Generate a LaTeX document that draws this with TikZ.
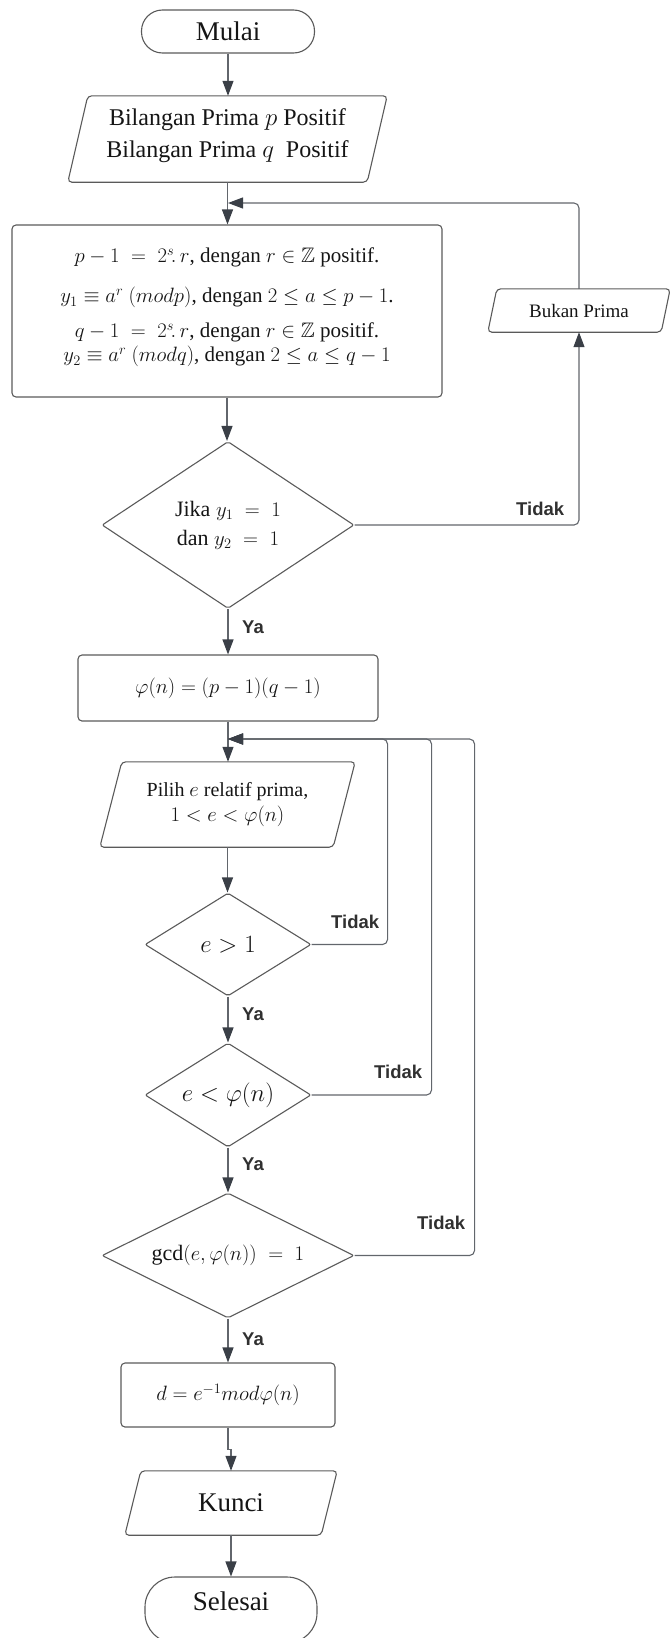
\documentclass[tikz,border=0pt]{standalone}
\usepackage{amssymb}
\usepackage{fontspec}
\setmainfont{Liberation Serif}
\newfontfamily\lblfont{Liberation Sans}
\usetikzlibrary{shapes.geometric,arrows.meta,calc}

\definecolor{shapegray}{HTML}{5A5A5A}
\definecolor{linegray}{HTML}{62666C}
\definecolor{tipdark}{HTML}{3A3F47}
\definecolor{inkblack}{HTML}{151515}
\definecolor{lbltext}{HTML}{303030}

% outline of an input/output parallelogram drawn over a named node
\newcommand\slantedoutline[2]{%
  \draw[outline, rounded corners=4pt]
    ($(#1.north west)+(#2,0)$) -- (#1.north east) --
    ($(#1.south east)-(#2,0)$) -- (#1.south west) -- cycle;}

\begin{document}
\begin{tikzpicture}[x=1pt,y=-1pt,
  outline/.style={draw=shapegray, line width=1.1pt},
  base/.style={outline, text=inkblack, align=center, inner sep=0pt},
  terminal/.style={base, rounded corners=21pt, font=\fontsize{27}{32}\selectfont},
  procbox/.style={base, rounded corners=4pt},
  decision/.style={base, diamond, rounded corners=2pt},
  iobox/.style={draw=none, text=inkblack, align=center, inner sep=0pt},
  flow/.style={draw=linegray, line width=1.1pt,
    -{Triangle[length=15pt,width=11pt,color=tipdark]}},
  lbl/.style={text=lbltext, inner sep=0pt, anchor=base west,
    font=\lblfont\bfseries\fontsize{18.5}{21}\selectfont}]

\useasboundingbox (0,0) rectangle (670,1638);

% ---- nodes ----
\node[terminal, minimum width=173pt, minimum height=43pt] (start) at (228,31.5) {Mulai};

\node[iobox, minimum width=319pt, minimum height=86pt,
      font=\fontsize{24}{32}\selectfont] (input) at (227.5,139)
  {Bilangan Prima $p$ Positif\\Bilangan Prima $q$\ \ Positif\rule[-11pt]{0pt}{0pt}};
\slantedoutline{input}{20}

\node[procbox, minimum width=430pt, minimum height=172pt,
      font=\fontsize{21}{24}\selectfont] (calc) at (227,311)
  {$p-1\;=\;2^s\!.\,r$, dengan $r\in\mathbb{Z}$ positif.\\[16pt]
   $y_1\equiv a^r\ (modp)$, dengan $2\le a\le p-1$.\\[11pt]
   $q-1\;=\;2^s\!.\,r$, dengan $r\in\mathbb{Z}$ positif.\\
   $y_2\equiv a^r\ (modq)$, dengan $2\le a\le q-1$\rule[-12pt]{0pt}{0pt}};

\node[iobox, minimum width=182pt, minimum height=43pt,
      font=\fontsize{19}{22}\selectfont] (notprime) at (579,310.5) {Bukan Prima};
\slantedoutline{notprime}{9}

\node[decision, aspect=1.5, minimum width=252pt, minimum height=167pt,
      font=\fontsize{22}{29}\selectfont] (test1) at (228,525)
  {Jika $y_1\;=\;1$\\dan $y_2\;=\;1$};

\node[procbox, minimum width=300pt, minimum height=66pt,
      font=\fontsize{22}{26}\selectfont] (phi) at (228,688)
  {$\varphi(n)=(p-1)(q-1)$};

\node[iobox, minimum width=255pt, minimum height=85pt,
      font=\fontsize{20}{25}\selectfont] (choose) at (227.5,804.5)
  {Pilih $e$ relatif prima,\\$1<e<\varphi(n)$};
\slantedoutline{choose}{22}

\node[decision, aspect=1.6, minimum width=166pt, minimum height=103pt,
      font=\fontsize{31}{34}\selectfont] (test2) at (228,944.5) {$e>1$};

\node[decision, aspect=1.6, minimum width=166pt, minimum height=104pt,
      font=\fontsize{23}{27}\selectfont] (test3) at (228,1095) {$e<\varphi(n)$};

\node[decision, aspect=2, minimum width=252pt, minimum height=125pt,
      font=\fontsize{22}{26}\selectfont] (test4) at (228,1255.5)
  {$\gcd(e,\varphi(n))\;=\;1$};

\node[procbox, minimum width=214pt, minimum height=64pt,
      font=\fontsize{20}{24}\selectfont] (dkey) at (228,1395)
  {$d=e^{-1}mod\varphi(n)$};

\node[iobox, minimum width=212pt, minimum height=64pt,
      font=\fontsize{27}{32}\selectfont] (key) at (231,1503) {Kunci};
\slantedoutline{key}{16}

\node[terminal, minimum width=172pt, minimum height=66pt, rounded corners=30pt,
      text height=18pt, text depth=18pt] (stop) at (231,1610) {Selesai};

% joints where the loops come back into the main line
\coordinate (join1) at (228,203);
\coordinate (join2) at (228,739);

% ---- connectors ----
\draw[flow] (start.south) -- (start.south |- input.north);
\draw[flow] (input.south) -- (input.south |- calc.north);
\draw[flow] (calc.south) -- (calc.south |- test1.north);
\draw[flow, rounded corners=5pt] (test1.east) -| (notprime.south);
\draw[flow, rounded corners=5pt] (notprime.north) |- (join1);
\draw[flow] (test1.south) -- (test1.south |- phi.north);
\draw[flow] (phi.south) -- (phi.south |- choose.north);
\draw[flow] (choose.south) -- (choose.south |- test2.north);
\draw[flow] (test2.south) -- (test3.north);
\draw[flow] (test3.south) -- (test4.north);
\draw[flow] (test4.south) -- (dkey.north);
\draw[flow] (dkey.south) -- ++(0,22) -| (key.north);
\draw[flow] (key.south) -- (stop.north);

\draw[flow, rounded corners=5pt] (test2.east) -- ++(76,0) |- (join2);
\draw[flow, rounded corners=5pt] (test3.east) -- ++(120,0) |- (join2);
\draw[flow, rounded corners=5pt] (test4.east) -- ++(120,0) |- (join2);

% ---- branch labels ----
\node[lbl] (no1) at (516,515) {Tidak};
\node[lbl] (yes1) at (242,633) {Ya};
\node[lbl] (no2) at (331,928) {Tidak};
\node[lbl] (yes2) at (242,1020) {Ya};
\node[lbl] (no3) at (374,1078) {Tidak};
\node[lbl] (yes3) at (242,1170) {Ya};
\node[lbl] (no4) at (417,1229) {Tidak};
\node[lbl] (yes4) at (242,1345) {Ya};
\end{tikzpicture}
\end{document}
